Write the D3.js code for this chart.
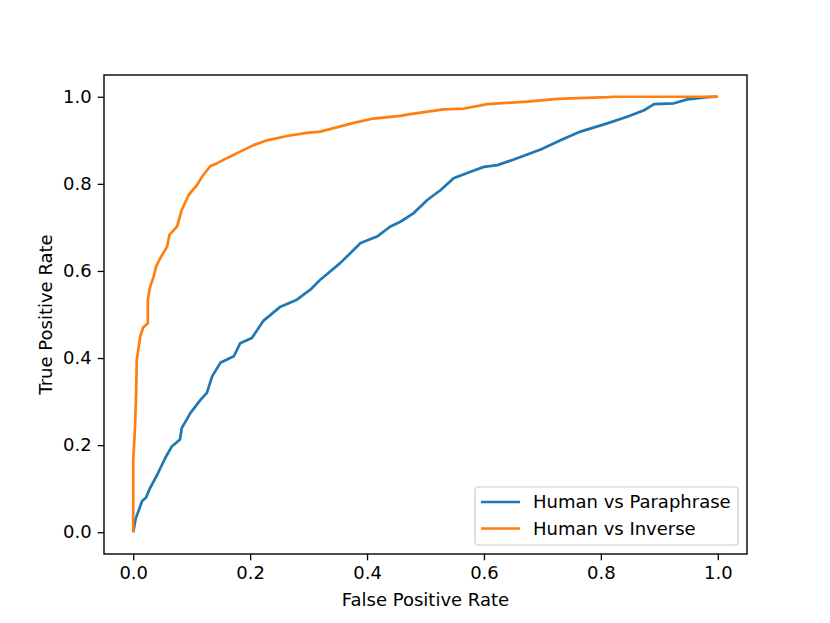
<!DOCTYPE html>
<html>
<head>
<meta charset="utf-8">
<script src="https://cdn.jsdelivr.net/npm/d3@7"></script>
<style>
  body { margin: 0; background: #fff; }
  svg text { font-family: "DejaVu Sans", sans-serif; fill: #000; }
</style>
</head>
<body>
<div id="chart"></div>
<script>
// ROC points: [fpr, tpr]
var paraphraseRoc = [
	[0, 0], [0.004, 0.03], [0.015, 0.071], [0.022, 0.08], [0.029, 0.102], [0.041, 0.132],
	[0.055, 0.171], [0.066, 0.197], [0.08, 0.213], [0.083, 0.239], [0.098, 0.274],
	[0.115, 0.304], [0.126, 0.32], [0.135, 0.358], [0.149, 0.389], [0.172, 0.404],
	[0.183, 0.434], [0.203, 0.446], [0.223, 0.486], [0.252, 0.518], [0.28, 0.534],
	[0.303, 0.557], [0.32, 0.58], [0.354, 0.618], [0.389, 0.664], [0.417, 0.679],
	[0.44, 0.702], [0.457, 0.713], [0.48, 0.733], [0.503, 0.763], [0.526, 0.786],
	[0.548, 0.813], [0.577, 0.828], [0.6, 0.839], [0.623, 0.843], [0.651, 0.856],
	[0.697, 0.879], [0.731, 0.9], [0.765, 0.92], [0.811, 0.939], [0.845, 0.954],
	[0.874, 0.969], [0.891, 0.983], [0.925, 0.985], [0.948, 0.994], [0.982, 0.999], [1, 1]
];
var inverseRoc = [
	[0, 0], [0, 0.165], [0.003, 0.24], [0.005, 0.32], [0.006, 0.395], [0.012, 0.45],
	[0.017, 0.47], [0.025, 0.48], [0.025, 0.534], [0.029, 0.564], [0.035, 0.587],
	[0.039, 0.61], [0.046, 0.629], [0.058, 0.656], [0.062, 0.683], [0.075, 0.702],
	[0.083, 0.74], [0.095, 0.775], [0.109, 0.797], [0.118, 0.817], [0.132, 0.841],
	[0.143, 0.847], [0.16, 0.859], [0.183, 0.874], [0.206, 0.889], [0.229, 0.9],
	[0.263, 0.91], [0.297, 0.917], [0.32, 0.92], [0.343, 0.928], [0.377, 0.94],
	[0.411, 0.95], [0.457, 0.956], [0.474, 0.96], [0.531, 0.971], [0.566, 0.973],
	[0.606, 0.983], [0.674, 0.989], [0.726, 0.995], [0.811, 0.999], [0.822, 1], [1, 1]
];
var seriesNames = ['Human vs Paraphrase', 'Human vs Inverse'];
var seriesColors = ['#1f77b4', '#ff7f0e'];
var tickValues = [0, 0.2, 0.4, 0.6, 0.8, 1.0];

var params = {
	width: 830, height: 623,
	margin: {left: 104, top: 75, right: 83, bottom: 69},
	fontSize: 18
};
params.plotWidth = params.width - params.margin.left - params.margin.right;
params.plotHeight = params.height - params.margin.top - params.margin.bottom;

var svg = d3.select('#chart').append('svg')
	.attr('width', params.width)
	.attr('height', params.height);

var g = svg.append('g')
	.attr('transform', 'translate(' + params.margin.left + ',' + params.margin.top + ')');

var x = d3.scaleLinear().domain([-0.05, 1.05]).range([0, params.plotWidth]);
var y = d3.scaleLinear().domain([-0.05, 1.05]).range([params.plotHeight, 0]);

// axes
var xAxis = g.append('g')
	.attr('transform', 'translate(0,' + params.plotHeight + ')')
	.call(d3.axisBottom(x).tickValues(tickValues).tickFormat(d3.format('.1f')).tickSize(6.3).tickPadding(6));
var yAxis = g.append('g')
	.call(d3.axisLeft(y).tickValues(tickValues).tickFormat(d3.format('.1f')).tickSize(6.3).tickPadding(6));
[xAxis, yAxis].forEach(function(a){
	a.select('.domain').remove();
	a.selectAll('line').attr('stroke', '#000').attr('stroke-width', 1.3);
	a.selectAll('text').style('font-size', params.fontSize + 'px').style('font-family', '"DejaVu Sans", sans-serif');
});

// lines
var line = d3.line()
	.x(function(d){ return x(d[0]); })
	.y(function(d){ return y(d[1]); });

[paraphraseRoc, inverseRoc].forEach(function(data, i){
	g.append('path')
		.datum(data)
		.attr('fill', 'none')
		.attr('stroke', seriesColors[i])
		.attr('stroke-width', 2.7)
		.attr('stroke-linejoin', 'round')
		.attr('d', line);
});

// frame
g.append('rect')
	.attr('width', params.plotWidth)
	.attr('height', params.plotHeight)
	.attr('fill', 'none')
	.attr('stroke', '#000')
	.attr('stroke-width', 1.4);

// axis labels
svg.append('text')
	.attr('x', params.margin.left + params.plotWidth / 2)
	.attr('y', 606)
	.attr('text-anchor', 'middle')
	.style('font-size', params.fontSize + 'px')
	.text('False Positive Rate');
svg.append('text')
	.attr('transform', 'translate(52,' + (params.margin.top + params.plotHeight / 2) + ') rotate(-90)')
	.attr('text-anchor', 'middle')
	.style('font-size', params.fontSize + 'px')
	.text('True Positive Rate');

// legend
var legend = svg.append('g').attr('transform', 'translate(475,487)');
legend.append('rect')
	.attr('width', 263)
	.attr('height', 58)
	.attr('rx', 3)
	.attr('fill', '#fff')
	.attr('fill-opacity', 0.8)
	.attr('stroke', '#ccc')
	.attr('stroke-width', 1.2);
seriesNames.forEach(function(name, i){
	var row = legend.append('g').attr('transform', 'translate(0,' + (15 + i * 26.5) + ')');
	row.append('line')
		.attr('x1', 6).attr('x2', 45)
		.attr('stroke', seriesColors[i])
		.attr('stroke-width', 2.7);
	row.append('text')
		.attr('x', 58)
		.attr('dy', '0.35em')
		.style('font-size', params.fontSize + 'px')
		.text(name);
});
</script>
</body>
</html>
